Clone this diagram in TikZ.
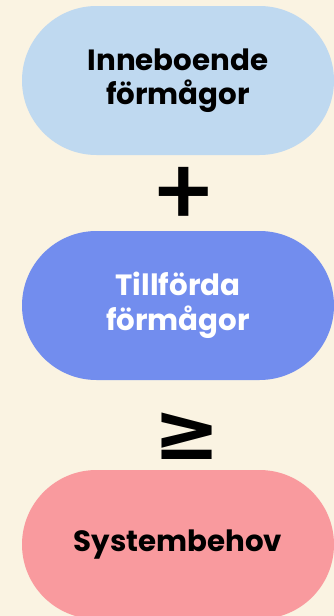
\documentclass[tikz,border=0pt]{standalone}
\usepackage{fontspec}
\setmainfont{Poppins}
\newfontfamily\popmed{Poppins Medium}
\newfontfamily\symfont{DejaVu Sans}
\definecolor{bgcream}{HTML}{FAF3E2}
\definecolor{pillsky}{HTML}{BFD9F0}
\definecolor{pillblue}{HTML}{728DEE}
\definecolor{pillpink}{HTML}{F99A9E}
\tikzset{
  pill/.style={rectangle, rounded corners=74.5pt, minimum width=312pt, minimum height=149pt,
    inner sep=0pt, align=center, font=\fontsize{29.3}{34.5}\selectfont\bfseries},
  opsign/.style={inner sep=0pt, text=black}
}
\begin{document}
\begin{tikzpicture}[x=1pt,y=-1pt]
\fill[bgcream] (0,0) rectangle (334,616);
\useasboundingbox (0,0) rectangle (334,616);
\node[pill, fill=pillsky, text=black] (inne) at (178,80.5) {Inneboende\\förmågor};
\node[opsign, font=\popmed\fontsize{96}{96}\selectfont] (plus) at (184,196.5) {+};
\node[pill, fill=pillblue, text=white] (till) at (178,305.5) {Tillförda\\förmågor};
\node[opsign, font=\symfont\bfseries\fontsize{80}{80}\selectfont] (geq) at (187,436) {≥};
\node[pill, fill=pillpink, text=black] (sys) at (178,544.5) {Systembehov};
\end{tikzpicture}
\end{document}
